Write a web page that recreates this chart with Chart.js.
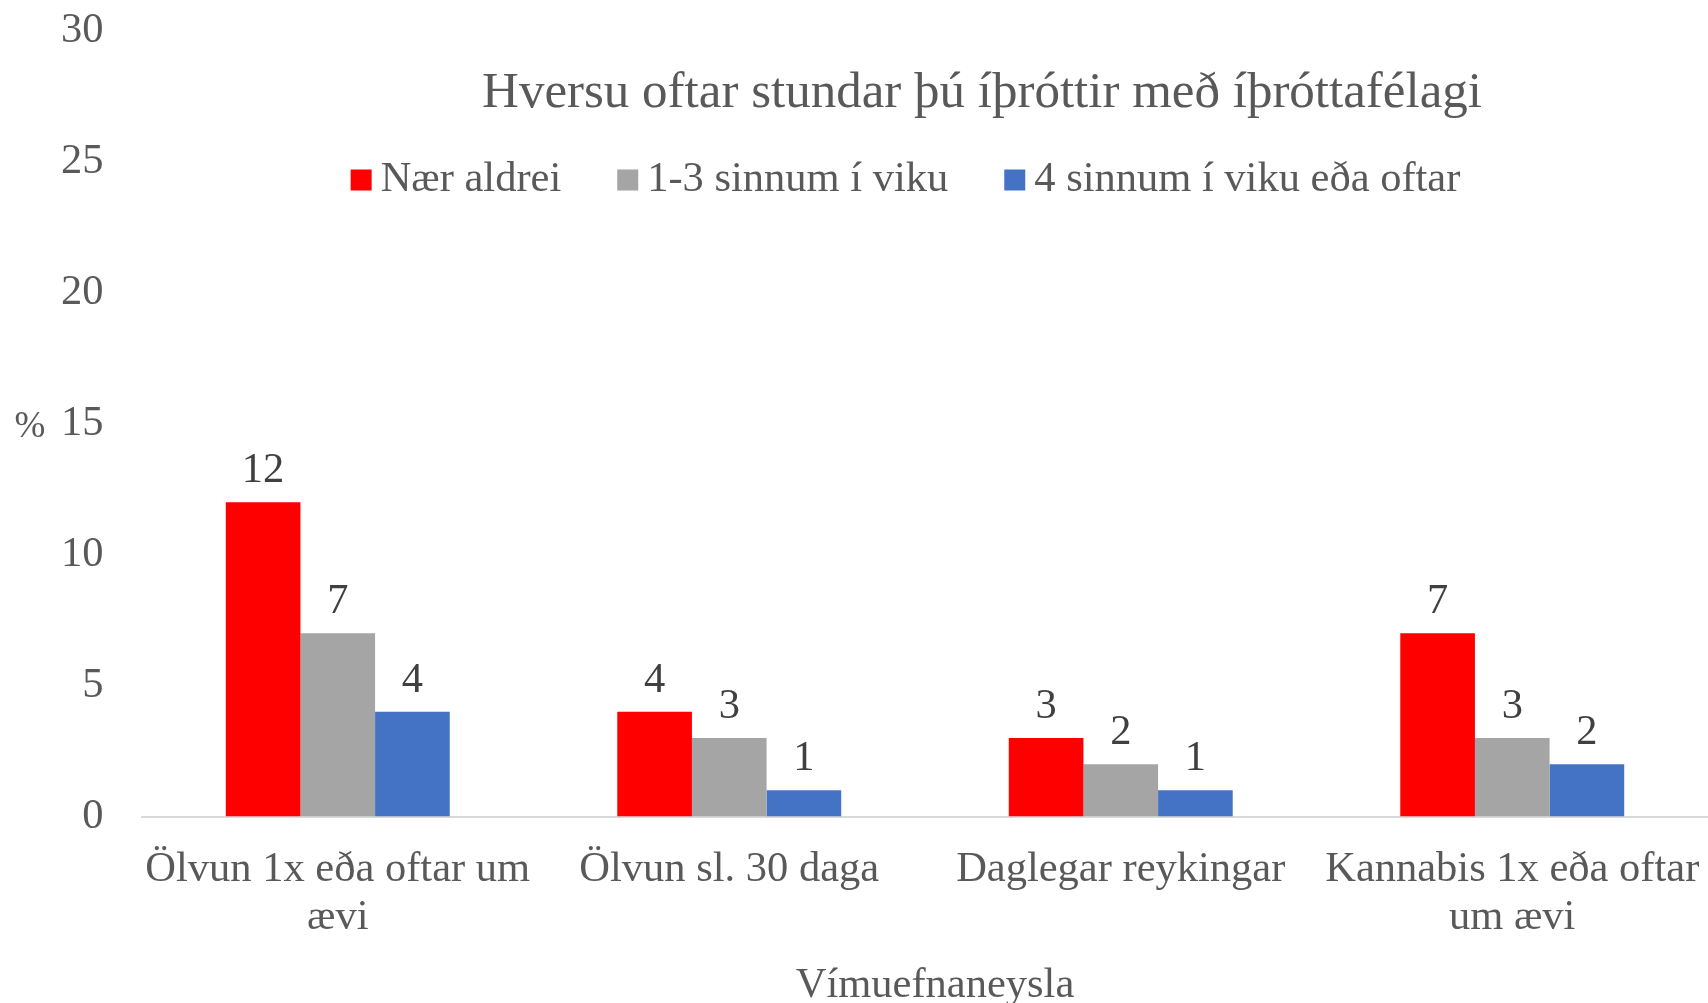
<!DOCTYPE html>
<html><head><meta charset="utf-8">
<script src="https://cdn.jsdelivr.net/npm/chart.js@4"></script>
<style>html,body{margin:0;padding:0;background:#fff;overflow:hidden}#wrap{width:1708px;height:1003px}</style>
</head><body><div id="wrap"><canvas id="c" width="1708" height="1003"></canvas></div>
<script>
const categories = [["Ölvun 1x eða oftar um", "ævi"], "Ölvun sl. 30 daga", "Daglegar reykingar", ["Kannabis 1x eða oftar", "um ævi"]];
const seriesNames = ["Nær aldrei", "1-3 sinnum í viku", "4 sinnum í viku eða oftar"];
const naerAldrei = [12, 4, 3, 7];
const einTilThrjuSinnum = [7, 3, 2, 3];
const fjorumSinnumOftar = [4, 1, 1, 2];
const yTickValues = [0, 5, 10, 15, 20, 25, 30];
const chartTitle = "Hversu oftar stundar þú íþróttir með íþróttafélagi";
const xAxisTitle = "Vímuefnaneysla";
const yAxisTitle = "%";
const seriesColors = ["#ff0000", "#a5a5a5", "#4472c4"];

const FONT = '"Liberation Serif", "Times New Roman", serif';
const TEXT = '#595959';

const overlay = {
  id: 'overlay',
  afterDatasetsDraw(chart) {
    const ctx = chart.ctx;
    ctx.save();
    // data labels
    ctx.font = '42.5px ' + FONT;
    ctx.fillStyle = '#404040';
    ctx.textAlign = 'center';
    ctx.textBaseline = 'alphabetic';
    chart.data.datasets.forEach((ds, i) => {
      chart.getDatasetMeta(i).data.forEach((bar, j) => {
        ctx.fillText(String(ds.data[j]), bar.x, bar.y - 20);
      });
    });
    // title
    ctx.font = '51px ' + FONT;
    ctx.fillStyle = TEXT;
    ctx.textBaseline = 'middle';
    ctx.fillText(chartTitle, 982, 94);
    // x axis title
    ctx.font = '42.5px ' + FONT;
    ctx.fillText(xAxisTitle, 935, 986);
    // y axis title
    ctx.font = '37px ' + FONT;
    ctx.fillText(yAxisTitle, 30, 427);
    // legend
    ctx.font = '42.5px ' + FONT;
    const box = 21, gapText = 9, gapItem = 56;
    const ws = chart.data.datasets.map(d => ctx.measureText(d.label).width);
    const total = ws.reduce((a, w) => a + box + gapText + w, 0) + gapItem * (ws.length - 1);
    let x = 905.5 - total / 2;
    const ly = 180;
    ctx.textAlign = 'left';
    chart.data.datasets.forEach((d, i) => {
      ctx.fillStyle = d.backgroundColor;
      ctx.fillRect(x, ly - box / 2, box, box);
      ctx.fillStyle = TEXT;
      ctx.fillText(d.label, x + box + gapText, ly);
      x += box + gapText + ws[i] + gapItem;
    });
    ctx.restore();
  }
};

new Chart(document.getElementById('c'), {
  type: 'bar',
  data: {
    labels: categories,
    datasets: [
      { label: seriesNames[0], data: naerAldrei, backgroundColor: seriesColors[0] },
      { label: seriesNames[1], data: einTilThrjuSinnum, backgroundColor: seriesColors[1] },
      { label: seriesNames[2], data: fjorumSinnumOftar, backgroundColor: seriesColors[2] }
    ]
  },
  options: {
    responsive: false,
    animation: false,
    devicePixelRatio: 1,
    layout: { padding: { top: 31, right: 0, bottom: 0, left: 0 } },
    datasets: { bar: { categoryPercentage: 0.572, barPercentage: 1.0, borderWidth: 0 } },
    plugins: { legend: { display: false }, title: { display: false }, tooltip: { enabled: false } },
    scales: {
      x: {
        grid: { display: false, drawTicks: false },
        border: { display: true, color: '#d9d9d9', width: 2 },
        ticks: { color: TEXT, font: { family: FONT, size: 42.5, lineHeight: 1.14 }, padding: 29, maxRotation: 0, minRotation: 0, autoSkip: false },
        title: { display: false },
        afterFit(s) { s.height = 186.5; s.paddingLeft = 0; s.paddingRight = 0; }
      },
      y: {
        min: 0, max: 30,
        grid: { display: false, drawTicks: false },
        border: { display: false },
        afterBuildTicks(s) { s.ticks = yTickValues.map(v => ({ value: v })); },
        ticks: { color: TEXT, font: { family: FONT, size: 42.5 }, padding: 38.5 },
        afterFit(s) { s.width = 142; s.paddingTop = 0; s.paddingBottom = 0; }
      }
    }
  },
  plugins: [overlay]
});
</script></body></html>
